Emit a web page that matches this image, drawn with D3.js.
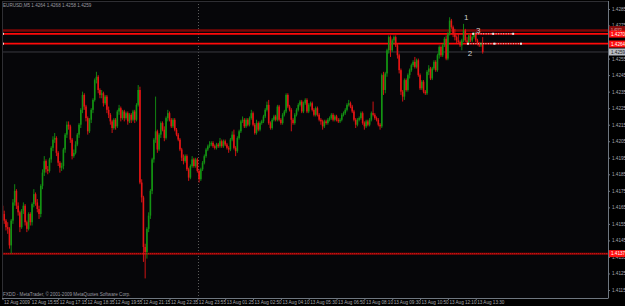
<!DOCTYPE html>
<html><head><meta charset="utf-8">
<script src="https://cdn.jsdelivr.net/npm/d3@7"></script>
<style>html,body{margin:0;padding:0;background:#000;overflow:hidden}svg{display:block}</style>
</head><body><svg id="c" width="625" height="306"></svg>
<script>
const closes=[1.4161,1.4157,1.4153,1.4152,1.4142,1.4157,1.4168,1.4175,1.4166,1.4162,
1.4153,1.4163,1.4166,1.4156,1.4152,1.4161,1.4156,1.4167,1.4173,1.4168,
1.4164,1.4161,1.4178,1.4186,1.4193,1.4188,1.4187,1.4194,1.4201,1.4206,
1.4207,1.4198,1.4192,1.4189,1.4190,1.4200,1.4209,1.4215,1.4214,1.4206,
1.4196,1.4198,1.4203,1.4209,1.4215,1.4224,1.4233,1.4226,1.4219,1.4211,
1.4218,1.4224,1.4230,1.4242,1.4244,1.4236,1.4233,1.4234,1.4228,1.4232,
1.4224,1.4221,1.4217,1.4213,1.4218,1.4214,1.4223,1.4225,1.4219,1.4223,
1.4219,1.4222,1.4217,1.4221,1.4218,1.4223,1.4218,1.4227,1.4236,1.4180,
1.4171,1.4141,1.4138,1.4152,1.4160,1.4175,1.4194,1.4206,1.4211,1.4200,
1.4209,1.4216,1.4212,1.4207,1.4219,1.4222,1.4218,1.4214,1.4218,1.4212,
1.4209,1.4206,1.4200,1.4195,1.4193,1.4196,1.4188,1.4183,1.4190,1.4194,
1.4190,1.4194,1.4187,1.4182,1.4188,1.4192,1.4196,1.4200,1.4202,1.4203,
1.4204,1.4202,1.4201,1.4203,1.4202,1.4205,1.4202,1.4205,1.4203,1.4201,
1.4200,1.4206,1.4209,1.4201,1.4199,1.4207,1.4211,1.4217,1.4218,1.4214,
1.4218,1.4215,1.4219,1.4222,1.4215,1.4210,1.4216,1.4212,1.4216,1.4217,
1.4220,1.4224,1.4227,1.4216,1.4213,1.4218,1.4220,1.4218,1.4226,1.4218,
1.4216,1.4221,1.4223,1.4233,1.4226,1.4224,1.4218,1.4216,1.4221,1.4224,
1.4227,1.4229,1.4223,1.4228,1.4230,1.4223,1.4227,1.4228,1.4224,1.4221,
1.4225,1.4221,1.4218,1.4217,1.4214,1.4217,1.4216,1.4218,1.4219,1.4221,
1.4218,1.4220,1.4218,1.4217,1.4218,1.4221,1.4222,1.4224,1.4227,1.4228,
1.4226,1.4223,1.4218,1.4215,1.4218,1.4219,1.4222,1.4216,1.4214,1.4217,
1.4215,1.4218,1.4222,1.4221,1.4219,1.4218,1.4215,1.4214,1.4245,1.4236,
1.4246,1.4260,1.4268,1.4260,1.4266,1.4268,1.4263,1.4257,1.4248,1.4235,
1.4232,1.4242,1.4236,1.4245,1.4248,1.4251,1.4253,1.4250,1.4254,1.4245,
1.4237,1.4241,1.4235,1.4234,1.4247,1.4249,1.4243,1.4249,1.4253,1.4248,
1.4257,1.4262,1.4257,1.4263,1.4267,1.4255,1.4270,1.4278,1.4274,1.4270,
1.4268,1.4266,1.4265,1.4263,1.4266,1.4272,1.4266,1.4265,1.4269,1.4266,
1.4268,1.4270,1.4266,1.4264,1.4263,1.4264,1.4259];
const opens=[1.4166,1.4161,1.4157,1.4153,1.4152,1.4142,1.4157,1.4168,1.4175,1.4166,
1.4162,1.4153,1.4163,1.4166,1.4156,1.4152,1.4161,1.4156,1.4167,1.4173,
1.4168,1.4164,1.4161,1.4178,1.4186,1.4193,1.4188,1.4187,1.4194,1.4201,
1.4206,1.4207,1.4198,1.4192,1.4189,1.4190,1.4200,1.4209,1.4215,1.4214,
1.4206,1.4196,1.4198,1.4203,1.4209,1.4215,1.4224,1.4233,1.4226,1.4219,
1.4211,1.4218,1.4224,1.4230,1.4242,1.4244,1.4236,1.4233,1.4234,1.4228,
1.4232,1.4224,1.4221,1.4217,1.4213,1.4218,1.4214,1.4223,1.4225,1.4219,
1.4223,1.4219,1.4222,1.4217,1.4221,1.4218,1.4223,1.4218,1.4227,1.4236,
1.4180,1.4171,1.4141,1.4138,1.4152,1.4160,1.4175,1.4194,1.4206,1.4211,
1.4200,1.4209,1.4216,1.4212,1.4207,1.4219,1.4222,1.4218,1.4214,1.4218,
1.4212,1.4209,1.4206,1.4200,1.4195,1.4193,1.4196,1.4188,1.4183,1.4190,
1.4194,1.4190,1.4194,1.4187,1.4182,1.4188,1.4192,1.4196,1.4200,1.4202,
1.4203,1.4204,1.4202,1.4201,1.4203,1.4202,1.4205,1.4202,1.4205,1.4203,
1.4201,1.4200,1.4206,1.4209,1.4201,1.4199,1.4207,1.4211,1.4217,1.4218,
1.4214,1.4218,1.4215,1.4219,1.4222,1.4215,1.4210,1.4216,1.4212,1.4216,
1.4217,1.4220,1.4224,1.4227,1.4216,1.4213,1.4218,1.4220,1.4218,1.4226,
1.4218,1.4216,1.4221,1.4223,1.4233,1.4226,1.4224,1.4218,1.4216,1.4221,
1.4224,1.4227,1.4229,1.4223,1.4228,1.4230,1.4223,1.4227,1.4228,1.4224,
1.4221,1.4225,1.4221,1.4218,1.4217,1.4214,1.4217,1.4216,1.4218,1.4219,
1.4221,1.4218,1.4220,1.4218,1.4217,1.4218,1.4221,1.4222,1.4224,1.4227,
1.4228,1.4226,1.4223,1.4218,1.4215,1.4218,1.4219,1.4222,1.4216,1.4214,
1.4217,1.4215,1.4218,1.4222,1.4221,1.4219,1.4218,1.4215,1.4214,1.4245,
1.4236,1.4246,1.4260,1.4268,1.4260,1.4266,1.4268,1.4263,1.4257,1.4248,
1.4235,1.4232,1.4242,1.4236,1.4245,1.4248,1.4251,1.4253,1.4250,1.4254,
1.4245,1.4237,1.4241,1.4235,1.4234,1.4247,1.4249,1.4243,1.4249,1.4253,
1.4248,1.4257,1.4262,1.4257,1.4263,1.4267,1.4255,1.4270,1.4278,1.4274,
1.4270,1.4268,1.4266,1.4265,1.4263,1.4266,1.4272,1.4266,1.4265,1.4269,
1.4266,1.4268,1.4270,1.4266,1.4264,1.4263,1.4264];
const highs=[1.4168,1.4163,1.4158,1.4156,1.4153,1.4158,1.4170,1.4179,1.4176,1.4168,
1.4163,1.4164,1.4168,1.4167,1.4157,1.4162,1.4162,1.4168,1.4176,1.4174,
1.4170,1.4166,1.4179,1.4188,1.4196,1.4194,1.4190,1.4195,1.4202,1.4208,
1.4210,1.4208,1.4199,1.4193,1.4192,1.4201,1.4210,1.4217,1.4217,1.4215,
1.4207,1.4200,1.4205,1.4210,1.4216,1.4225,1.4235,1.4234,1.4227,1.4220,
1.4219,1.4225,1.4231,1.4243,1.4247,1.4245,1.4237,1.4236,1.4235,1.4233,
1.4233,1.4226,1.4222,1.4218,1.4219,1.4219,1.4224,1.4227,1.4226,1.4224,
1.4224,1.4223,1.4223,1.4222,1.4222,1.4224,1.4224,1.4228,1.4239,1.4238,
1.4182,1.4172,1.4143,1.4153,1.4162,1.4176,1.4195,1.4207,1.4232,1.4212,
1.4210,1.4217,1.4217,1.4214,1.4220,1.4224,1.4223,1.4219,1.4219,1.4219,
1.4213,1.4210,1.4207,1.4201,1.4197,1.4197,1.4197,1.4189,1.4191,1.4196,
1.4195,1.4195,1.4195,1.4188,1.4189,1.4193,1.4197,1.4201,1.4203,1.4205,
1.4205,1.4205,1.4203,1.4204,1.4204,1.4207,1.4206,1.4206,1.4206,1.4204,
1.4202,1.4207,1.4211,1.4212,1.4202,1.4208,1.4212,1.4218,1.4220,1.4219,
1.4219,1.4219,1.4220,1.4224,1.4223,1.4216,1.4218,1.4217,1.4217,1.4218,
1.4221,1.4225,1.4229,1.4230,1.4217,1.4219,1.4221,1.4221,1.4227,1.4227,
1.4219,1.4222,1.4224,1.4234,1.4234,1.4227,1.4225,1.4219,1.4222,1.4225,
1.4228,1.4230,1.4230,1.4229,1.4231,1.4231,1.4228,1.4229,1.4229,1.4225,
1.4226,1.4226,1.4222,1.4219,1.4218,1.4218,1.4218,1.4219,1.4220,1.4222,
1.4222,1.4221,1.4221,1.4219,1.4219,1.4222,1.4223,1.4225,1.4228,1.4230,
1.4229,1.4227,1.4224,1.4219,1.4219,1.4220,1.4223,1.4223,1.4217,1.4218,
1.4218,1.4219,1.4223,1.4229,1.4222,1.4220,1.4219,1.4216,1.4246,1.4247,
1.4247,1.4261,1.4269,1.4269,1.4267,1.4269,1.4269,1.4264,1.4258,1.4249,
1.4236,1.4243,1.4243,1.4246,1.4249,1.4252,1.4254,1.4256,1.4255,1.4255,
1.4246,1.4242,1.4242,1.4236,1.4248,1.4251,1.4250,1.4250,1.4254,1.4254,
1.4258,1.4263,1.4263,1.4264,1.4268,1.4269,1.4271,1.4280,1.4279,1.4275,
1.4273,1.4269,1.4270,1.4266,1.4267,1.4276,1.4273,1.4268,1.4270,1.4270,
1.4269,1.4271,1.4271,1.4267,1.4265,1.4265,1.4268];
const lows=[1.4159,1.4155,1.4151,1.4149,1.4140,1.4137,1.4155,1.4166,1.4164,1.4160,
1.4150,1.4152,1.4161,1.4154,1.4150,1.4151,1.4154,1.4154,1.4165,1.4166,
1.4162,1.4158,1.4159,1.4176,1.4184,1.4186,1.4185,1.4186,1.4192,1.4199,
1.4204,1.4196,1.4190,1.4186,1.4187,1.4188,1.4198,1.4207,1.4212,1.4204,
1.4194,1.4195,1.4197,1.4202,1.4207,1.4213,1.4222,1.4224,1.4217,1.4209,
1.4210,1.4216,1.4222,1.4229,1.4240,1.4234,1.4231,1.4231,1.4226,1.4227,
1.4222,1.4219,1.4215,1.4210,1.4212,1.4212,1.4213,1.4221,1.4217,1.4218,
1.4217,1.4218,1.4215,1.4216,1.4216,1.4217,1.4216,1.4217,1.4226,1.4179,
1.4168,1.4132,1.4122,1.4134,1.4150,1.4158,1.4173,1.4192,1.4204,1.4198,
1.4199,1.4207,1.4211,1.4205,1.4206,1.4217,1.4217,1.4213,1.4213,1.4211,
1.4208,1.4205,1.4199,1.4193,1.4191,1.4192,1.4187,1.4181,1.4182,1.4189,
1.4189,1.4189,1.4186,1.4180,1.4181,1.4187,1.4191,1.4195,1.4199,1.4201,
1.4202,1.4201,1.4200,1.4200,1.4201,1.4201,1.4201,1.4201,1.4202,1.4200,
1.4198,1.4199,1.4205,1.4200,1.4196,1.4198,1.4206,1.4210,1.4216,1.4213,
1.4213,1.4214,1.4214,1.4218,1.4214,1.4209,1.4209,1.4211,1.4211,1.4215,
1.4216,1.4219,1.4223,1.4215,1.4212,1.4212,1.4217,1.4217,1.4217,1.4217,
1.4215,1.4215,1.4220,1.4222,1.4225,1.4223,1.4211,1.4215,1.4215,1.4220,
1.4223,1.4226,1.4222,1.4222,1.4227,1.4222,1.4222,1.4226,1.4223,1.4220,
1.4220,1.4220,1.4217,1.4215,1.4212,1.4213,1.4215,1.4215,1.4217,1.4218,
1.4217,1.4217,1.4217,1.4216,1.4216,1.4217,1.4220,1.4221,1.4223,1.4226,
1.4225,1.4222,1.4217,1.4213,1.4214,1.4217,1.4218,1.4215,1.4212,1.4213,
1.4214,1.4214,1.4217,1.4220,1.4218,1.4217,1.4214,1.4212,1.4213,1.4233,
1.4234,1.4244,1.4258,1.4256,1.4259,1.4264,1.4262,1.4255,1.4246,1.4233,
1.4229,1.4230,1.4235,1.4235,1.4243,1.4247,1.4250,1.4249,1.4249,1.4244,
1.4236,1.4236,1.4234,1.4233,1.4233,1.4245,1.4242,1.4242,1.4248,1.4247,
1.4247,1.4255,1.4256,1.4256,1.4262,1.4254,1.4254,1.4269,1.4273,1.4268,
1.4266,1.4264,1.4264,1.4262,1.4260,1.4265,1.4265,1.4264,1.4264,1.4265,
1.4265,1.4267,1.4265,1.4263,1.4262,1.4262,1.4258];
const timeLabels=["12 Aug 2009","12 Aug 15:55","12 Aug 17:15","12 Aug 18:35","12 Aug 19:55","12 Aug 21:15","12 Aug 22:35","12 Aug 23:55","13 Aug 01:25","13 Aug 02:50","13 Aug 04:10","13 Aug 05:30","13 Aug 06:50","13 Aug 08:10","13 Aug 09:30","13 Aug 10:50","13 Aug 12:10","13 Aug 13:30"];
const labelBars=[0,16,32,48,64,80,96,112,128,144,160,176,192,208,224,240,256,272];
const priceTicks=[1.4285,1.4275,1.4255,1.4245,1.4235,1.4225,1.4215,1.4205,1.4195,1.4185,1.4175,1.4165,1.4155,1.4145,1.4135,1.4125,1.4115];
const redLevels=[1.4270,1.4264];
const darkLevel=1.4272;
const supportLevel=1.4137;
const bidPrice=1.4259;
const daySeparatorBar=112.5;
const orderLevels=[1.4270,1.4264];
const orderSpans=[[270.5,293.5],[267.5,298]];
const orderMarks=[{n:"1",bar:266.5,price:1.4280},{n:"3",bar:273.5,price:1.4272},{n:"2",bar:268.7,price:1.4258}];
const titleText="EURUSD,M5  1.4264 1.4268 1.4258 1.4259";
const copyText="FXDD - MetaTrader, \u00a9 2001-2009 MetaQuotes Software Corp.";

const W=625,H=306,L=2,R=608,T=1,B=298;
const svg=d3.select("#c");
svg.append("rect").attr("width",W).attr("height",H).attr("fill","#000");
svg.append("rect").attr("x",L).attr("y",T).attr("width",R-L).attr("height",B-T).attr("fill","#060609");
const y=d3.scaleLinear().domain([1.4115,1.4285]).range([290,9]);
const x=d3.scaleLinear().domain([0,276]).range([2.5,482.7]);
const fmt=d3.format(".4f");
const font="'Liberation Sans',Arial,sans-serif";

svg.append("clipPath").attr("id","clip").append("rect").attr("x",L).attr("y",T).attr("width",R-L).attr("height",B-T);
const plot=svg.append("g").attr("clip-path","url(#clip)");

svg.append("line").attr("x1",L).attr("x2",R).attr("y1",T+0.5).attr("y2",T+0.5).attr("stroke","#2e2e33");
svg.append("line").attr("x1",L+0.5).attr("x2",L+0.5).attr("y1",T).attr("y2",B).attr("stroke","#2e2e33");

plot.append("line").attr("x1",Math.round(x(daySeparatorBar))+0.5).attr("x2",Math.round(x(daySeparatorBar))+0.5)
 .attr("y1",T).attr("y2",B).attr("stroke","#5a5a5a").attr("stroke-dasharray","1,2");

plot.append("line").attr("x1",L).attr("x2",R).attr("y1",y(bidPrice)).attr("y2",y(bidPrice)).attr("stroke","#3a3a40").attr("stroke-width",1);

plot.append("line").attr("x1",L).attr("x2",R).attr("y1",y(darkLevel)).attr("y2",y(darkLevel)).attr("stroke","#7a0606").attr("stroke-width",2.4);
plot.append("line").attr("x1",L).attr("x2",R).attr("y1",y(supportLevel)).attr("y2",y(supportLevel)).attr("stroke","#8a0808").attr("stroke-width",2);
plot.append("line").attr("x1",L).attr("x2",R).attr("y1",y(supportLevel)).attr("y2",y(supportLevel)).attr("stroke","#d01010").attr("stroke-width",1).attr("stroke-dasharray","1,1");
redLevels.forEach(p=>{
  plot.append("line").attr("x1",L).attr("x2",R).attr("y1",y(p)).attr("y2",y(p)).attr("stroke","#ff0a0a").attr("stroke-width",1.8);
  plot.append("rect").attr("x",L).attr("y",y(p)-1).attr("width",2).attr("height",2).attr("fill","#ffd0d0");
});

const data=closes.map((c,i)=>({i,o:opens[i],h:highs[i],l:lows[i],c}));
const up="#139313", dn="#e51515";
const cg=plot.append("g");
cg.selectAll("line.w").data(data).join("line")
 .attr("x1",d=>x(d.i)).attr("x2",d=>x(d.i))
 .attr("y1",d=>y(d.h)).attr("y2",d=>y(d.l))
 .attr("stroke",d=>d.c>=d.o?up:dn).attr("stroke-width",0.9);
cg.selectAll("rect.b").data(data).join("rect")
 .attr("x",d=>x(d.i)-0.8).attr("width",1.6)
 .attr("y",d=>y(Math.max(d.o,d.c)))
 .attr("height",d=>Math.max(0.8,Math.abs(y(d.o)-y(d.c))))
 .attr("fill",d=>d.c>=d.o?up:dn);

orderLevels.forEach((p,k)=>{
  const [a,b]=orderSpans[k];
  const x1=x(a), x2=x(b), xm=(x1+x2)/2;
  plot.append("line").attr("x1",x1).attr("x2",x2).attr("y1",y(p)).attr("y2",y(p))
   .attr("stroke","#d8d8d8").attr("stroke-width",1).attr("stroke-dasharray","1,1.5");
  [x1,xm,x2].forEach(xx=>plot.append("rect").attr("x",xx-1).attr("y",y(p)-1).attr("width",2).attr("height",2).attr("fill","#e8e8e8"));
});
orderMarks.forEach(m=>{
  plot.append("text").attr("x",x(m.bar)).attr("y",y(m.price)).attr("dy","0.35em")
   .attr("text-anchor","middle").attr("font-family",font).attr("font-size",8)
   .attr("fill","#cfcfcf").text(m.n);
});

svg.append("text").attr("x",3).attr("y",7).attr("font-family",font).attr("font-size",4.6).attr("fill","#9a9aa0").text(titleText);
svg.append("text").attr("x",3).attr("y",296).attr("font-family",font).attr("font-size",4.6).attr("fill","#9a9aa0").text(copyText);

const ya=svg.append("g").attr("transform",`translate(${R},0)`)
 .call(d3.axisRight(y).tickValues(priceTicks).tickFormat(fmt).tickSize(2).tickPadding(2));
ya.select(".domain").attr("stroke","#6e7680").attr("d",`M0.5,${T}V${B}`);
ya.selectAll(".tick line").attr("stroke","#6e7680");
ya.selectAll("text").attr("fill","#a8a8ae").attr("font-family",font).attr("font-size",4.6)
 .attr("y",d=>d===1.4275?-1:0);

const xa=svg.append("g").attr("transform",`translate(0,${B})`)
 .call(d3.axisBottom(x).tickValues(labelBars).tickFormat((d,i)=>timeLabels[i]).tickSize(2));
xa.select(".domain").attr("stroke","#6e7680").attr("d",`M${L},0.5H${R+0.5}`);
xa.selectAll(".tick line").attr("stroke","#6e7680");
xa.selectAll("text").attr("fill","#a8a8ae").attr("font-family",font).attr("font-size",4.6)
 .attr("text-anchor","start").attr("x",1).attr("y",3).attr("dy","0.71em");

function box(p,bg,fg,off,fs){
  const cy=y(p)+(off||0);
  const g=svg.append("g");
  g.append("rect").attr("x",R+1).attr("y",cy-3.5).attr("width",W-R-1).attr("height",7).attr("fill",bg);
  g.append("text").attr("x",R+3).attr("y",cy).attr("dy","0.35em").attr("font-family",font).attr("font-size",fs||4.6).attr("fill",fg).text(fmt(p));
}
box(darkLevel,"#8a0a0a","#f0d0d0",-0.9,3.5);
redLevels.forEach(p=>box(p,"#ff1010","#ffffff",0.3));
box(bidPrice,"#b8bcc4","#202020");
box(supportLevel,"#ff1010","#ffffff");
</script></body></html>
